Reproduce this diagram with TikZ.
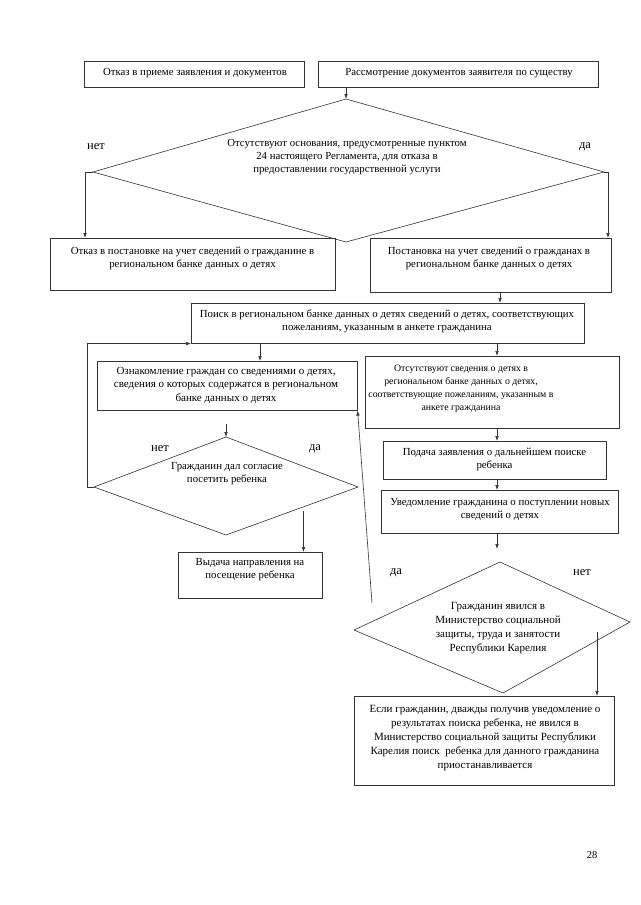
\documentclass[tikz,border=0pt]{standalone}
\usepackage{fontspec}
\setmainfont{Liberation Serif}
\usetikzlibrary{arrows.meta,calc}
\begin{document}
\begin{tikzpicture}[x=1pt,y=-1pt,
  ln/.style={draw=black!80, line width=0.6pt},
  arr/.style={ln,-{Latex[length=5pt,width=3.6pt]}},
  box/.style={ln, rectangle, anchor=north west, inner sep=0pt},
  txt/.style={font=\fontsize{10.8}{13}\selectfont, align=center, inner sep=0pt, text=black},
  txtc/.style={font=\fontsize{11}{13.5}\selectfont, align=center, inner sep=0pt, text=black},
  txts/.style={font=\fontsize{9.8}{13}\selectfont, align=center, inner sep=0pt, text=black},
  txtb/.style={font=\fontsize{11}{14}\selectfont, align=center, inner sep=0pt, text=black},
  lab/.style={font=\fontsize{12.5}{14}\selectfont, inner sep=0pt, text=black}]
\useasboundingbox[fill=white] (0,0) rectangle (640,905);

% boxes
\node[box, minimum width=220pt, minimum height=26pt] (b1) at (84,61) {};
\node[box, minimum width=280pt, minimum height=26pt] (b2) at (318,61) {};
\node[box, minimum width=285pt, minimum height=52pt] (b3) at (50,238) {};
\node[box, minimum width=241pt, minimum height=54pt] (b4) at (370,238) {};
\node[box, minimum width=393pt, minimum height=40pt] (poisk) at (191,303) {};
\node[box, minimum width=260pt, minimum height=49pt] (ozn) at (97,361) {};
\node[box, minimum width=144pt, minimum height=46pt] (vyd) at (178,552) {};
\node[box, minimum width=254pt, minimum height=72pt] (otsut) at (365,356) {};
\node[box, minimum width=223pt, minimum height=38pt] (pod) at (383,441) {};
\node[box, minimum width=237pt, minimum height=43pt] (uved) at (381,490) {};
\node[box, minimum width=260pt, minimum height=89pt] (fin) at (354,696) {};

% texts
\node[txt] (t1) at (195,73.5) {Отказ в приеме заявления и документов};
\node[txt] (t2) at (459,73.5) {Рассмотрение документов заявителя по существу};
\node[txt] (t3) at (192.5,258.5) {Отказ в постановке на учет сведений о гражданине в\\региональном банке данных о детях};
\node[txt] (t4) at (489,258.5) {Постановка на учет сведений о гражданах в\\региональном банке данных о детях};
\node[txt] (t5) at (387,321.5) {Поиск в региональном банке данных о детях сведений о детях, соответствующих\\пожеланиям, указанным в анкете гражданина};
\node[txtc] (t6) at (226,385) {Ознакомление граждан со сведениями о детях,\\сведения о которых содержатся в региональном\\банке данных о детях};
\node[txt] (t7) at (250,569.5) {Выдача направления на\\посещение ребенка};
\node[txts] (t8) at (461,389) {Отсутствуют сведения о детях в\\региональном банке данных о детях,\\соответствующие пожеланиям, указанным в\\анкете гражданина};
\node[txt] (t9) at (494.5,459) {Подача заявления о дальнейшем поиске\\ребенка};
\node[txt] (t10) at (500,510) {Уведомление гражданина о поступлении новых\\сведений о детях};
\node[txtb] (t11) at (485,738) {Если гражданин, дважды получив уведомление о\\результатах поиска ребенка, не явился в\\Министерство социальной защиты Республики\\Карелия поиск\ \ ребенка для данного гражданина\\приостанавливается};

% diamonds
\coordinate (d1n) at (346,99); \coordinate (d1w) at (93,172);
\coordinate (d1e) at (604,172); \coordinate (d1s) at (346,242);
\draw[ln] (d1n) -- (d1e) -- (d1s) -- (d1w) -- cycle;
\node[txt] (d1t) at (347,157) {Отсутствуют основания, предусмотренные пунктом\\24 настоящего Регламента, для отказа в\\предоставлении государственной услуги};

\coordinate (d2n) at (226,437); \coordinate (d2w) at (94,487);
\coordinate (d2e) at (358,487); \coordinate (d2s) at (226,535);
\draw[ln] (d2n) -- (d2e) -- (d2s) -- (d2w) -- cycle;
\node[txt] (d2t) at (227,474) {Гражданин дал согласие\\посетить ребенка};

\coordinate (d3n) at (500,562); \coordinate (d3w) at (354,630);
\coordinate (d3e) at (630,622); \coordinate (d3s) at (503,693);
\draw[ln] (d3n) -- (d3e) -- (d3s) -- (d3w) -- cycle;
\node[txtb] (d3t) at (498,628) {Гражданин явился в\\Министерство социальной\\защиты, труда и занятости\\Республики Карелия};

% labels
\node[lab] (l1) at (96,147) {нет};
\node[lab] (l2) at (585,147) {да};
\node[lab] (l3) at (160,449) {нет};
\node[lab] (l4) at (315,449) {да};
\node[lab] (l5) at (396,573) {да};
\node[lab] (l6) at (582,573) {нет};
\node[font=\fontsize{10.5}{12}\selectfont, inner sep=0pt] (pg) at (592,855) {28};

% column coordinates
\coordinate (xa) at (500,0);
\coordinate (xr) at (497,0);
\coordinate (xo) at (260,0);
\coordinate (lp) at (87,0);
\coordinate (xl) at (85,0);
\coordinate (xe) at (608,0);

% connectors
\draw[arr] (b2.south -| d1n) -- (d1n);
\draw[arr] (d1w) -- (d1w -| xl) -- (b3.north -| xl);
\draw[arr] (d1e) -- (d1e -| xe) -- (b4.north -| xe);
\draw[arr] (b4.south -| xa) -- (poisk.north -| xa);
\draw[arr] (d2w) -- (d2w -| lp) -- (poisk.south -| lp) -- (poisk.south west);
\draw[arr] (poisk.south -| xo) -- (ozn.north -| xo);
\draw[arr, shorten <=13pt] (ozn.south -| d2n) -- (d2n);
\coordinate (d2o) at (303.5,511);
\draw[arr] (d2o) -- (d2o |- vyd.north);
\coordinate (d3o) at (372,603);
\draw[arr] (d3o) -- (ozn.south east);
\draw[arr] (poisk.south -| xr) -- (otsut.north -| xr);
\draw[arr] (otsut.south -| xr) -- (pod.north -| xr);
\draw[arr] (pod.south -| xr) -- (uved.north -| xr);
\draw[arr, shorten >=13pt] (uved.south -| xr) -- (d3n -| xr);
\coordinate (d3x) at (597,632);
\draw[arr] (d3x) -- (fin.north -| d3x);
\end{tikzpicture}
\end{document}
